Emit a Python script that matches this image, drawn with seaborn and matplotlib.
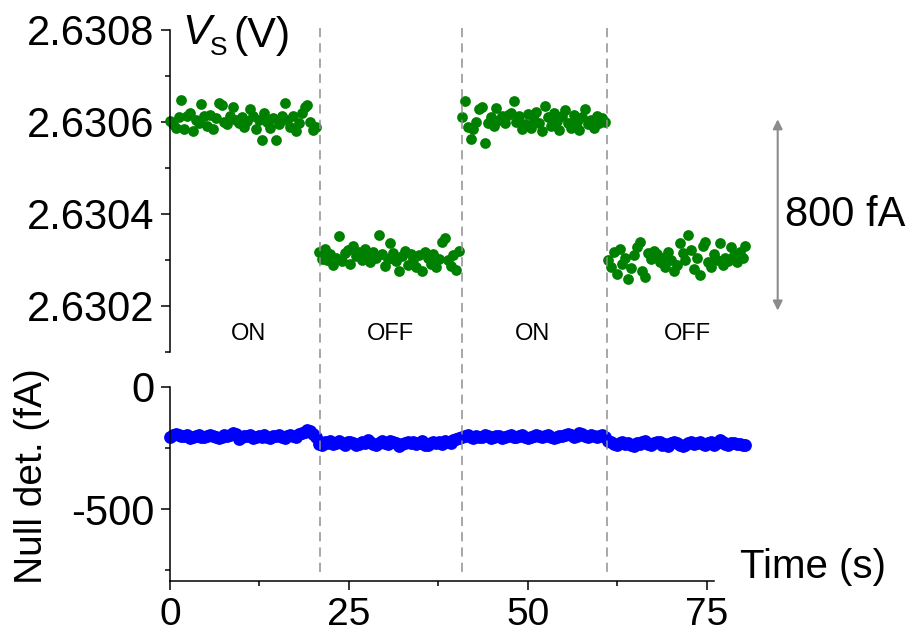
import numpy as np
import pandas as pd
import matplotlib
matplotlib.use("Agg")
import matplotlib.pyplot as plt
from matplotlib.ticker import MultipleLocator, FormatStrFormatter
from matplotlib.transforms import blended_transform_factory
from matplotlib.lines import Line2D
import seaborn as sns

# Sampling interval of the recorder (s)
SAMPLE_DT = 0.4

# Source voltage V_S (V), one list per source state
vs_on_1 = [
    2.630602, 2.630595, 2.630588, 2.630610, 2.630648, 2.630585, 2.630612, 2.630620, 2.630580, 2.630605,
    2.630598, 2.630640, 2.630612, 2.630592, 2.630615, 2.630585, 2.630608, 2.630642, 2.630638, 2.630600,
    2.630595, 2.630612, 2.630632, 2.630605, 2.630598, 2.630610, 2.630590, 2.630602, 2.630628, 2.630612,
    2.630585, 2.630605, 2.630560, 2.630620, 2.630600, 2.630588, 2.630608, 2.630560, 2.630595, 2.630612,
    2.630642, 2.630605, 2.630590, 2.630612, 2.630580, 2.630598, 2.630620, 2.630632, 2.630638, 2.630600,
    2.630582, 2.630590,
]
vs_off_1 = [
    2.630318, 2.630302, 2.630325, 2.630300, 2.630312, 2.630290, 2.630305, 2.630352, 2.630298, 2.630315,
    2.630322, 2.630292, 2.630330, 2.630308, 2.630318, 2.630300, 2.630325, 2.630310, 2.630295, 2.630318,
    2.630305, 2.630355, 2.630312, 2.630288, 2.630302, 2.630338, 2.630315, 2.630298, 2.630275, 2.630308,
    2.630320, 2.630290, 2.630312, 2.630300, 2.630285, 2.630310, 2.630275, 2.630318, 2.630305, 2.630292,
    2.630312, 2.630285, 2.630302, 2.630340, 2.630348, 2.630300, 2.630288, 2.630310, 2.630278, 2.630320,
]
vs_on_2 = [
    2.630610, 2.630645, 2.630590, 2.630562, 2.630585, 2.630600, 2.630628, 2.630632, 2.630555, 2.630598,
    2.630610, 2.630592, 2.630630, 2.630605, 2.630612, 2.630598, 2.630615, 2.630620, 2.630645, 2.630600,
    2.630612, 2.630585, 2.630595, 2.630618, 2.630588, 2.630605, 2.630622, 2.630598, 2.630580, 2.630635,
    2.630610, 2.630592, 2.630620, 2.630602, 2.630582, 2.630612, 2.630625, 2.630598, 2.630588, 2.630615,
    2.630600, 2.630582, 2.630610, 2.630628, 2.630595, 2.630605, 2.630588, 2.630612, 2.630598, 2.630608,
    2.630600,
]
vs_off_2 = [
    2.630300, 2.630285, 2.630318, 2.630270, 2.630325, 2.630292, 2.630305, 2.630258, 2.630282, 2.630310,
    2.630328, 2.630340, 2.630275, 2.630262, 2.630315, 2.630302, 2.630320, 2.630312, 2.630295, 2.630305,
    2.630285, 2.630318, 2.630300, 2.630275, 2.630290, 2.630338, 2.630315, 2.630300, 2.630355, 2.630322,
    2.630280, 2.630305, 2.630268, 2.630330, 2.630340, 2.630295, 2.630285, 2.630312, 2.630300, 2.630338,
    2.630290, 2.630305, 2.630298, 2.630328, 2.630310, 2.630295, 2.630318, 2.630305, 2.630330,
]

# Null detector current (fA), recorded alongside V_S
null_on_1 = [
    -205, -198, -192, -196, -202, -200, -195, -210, -204, -199,
    -197, -203, -206, -201, -196, -200, -205, -208, -203, -198,
    -200, -196, -188, -194, -212, -206, -199, -202, -197, -210,
    -205, -200, -203, -198, -206, -209, -202, -200, -197, -204,
    -207, -201, -196, -199, -203, -194, -190, -185, -176, -182,
    -192, -205,
]
null_off_1 = [
    -232, -238, -226, -230, -222, -235, -228, -220, -231, -236,
    -226, -224, -230, -238, -233, -225, -229, -218, -227, -232,
    -236, -228, -223, -230, -234, -221, -226, -231, -240, -235,
    -228, -224, -230, -226, -233, -229, -222, -236, -238, -231,
    -227, -230, -225, -233, -221, -226, -229, -218, -214, -210,
]
null_on_2 = [
    -206, -202, -198, -204, -209, -200, -205, -203, -196, -201,
    -207, -204, -199, -202, -210, -205, -200, -197, -203, -206,
    -201, -198, -204, -208, -203, -199, -195, -202, -206, -200,
    -197, -204, -209, -203, -199, -201, -196, -192, -198, -205,
    -200, -188, -194, -199, -203, -197, -200, -205, -202, -198,
    -204,
]
null_off_2 = [
    -220, -226, -232, -238, -229, -224, -233, -230, -236, -241,
    -228, -232, -226, -222, -235, -238, -231, -227, -224, -236,
    -233, -240, -229, -225, -231, -236, -242, -238, -230, -226,
    -233, -228, -224, -235, -239, -231, -227, -236, -229, -218,
    -224, -233, -237, -230, -228, -235, -232, -238, -236,
]

# Moments the source was switched (s) and the state labels between them
switch_times = [20.9, 40.8, 61.0]
state_labels = ["ON", "OFF", "ON", "OFF"]
state_label_x = [10.9, 30.8, 50.6, 72.3]

# Scale bar: span of V_S that corresponds to 800 fA
scale_bar_x = 84.9
scale_bar_y = [2.630190, 2.630606]
scale_bar_text = "800 fA"

vs = np.concatenate([vs_on_1, vs_off_1, vs_on_2, vs_off_2])
null = np.concatenate([null_on_1, null_off_1, null_on_2, null_off_2])
time = np.arange(len(vs)) * SAMPLE_DT
df = pd.DataFrame({"time": time, "vs": vs, "null": null})

sns.set_style("ticks")
plt.rcParams["font.family"] = ["Liberation Sans", "DejaVu Sans"]
plt.rcParams["axes.unicode_minus"] = False
for key in ("text.color", "axes.labelcolor", "xtick.color", "ytick.color", "axes.edgecolor"):
    plt.rcParams[key] = "black"

W, H = 907, 632
fig = plt.figure(figsize=(W / 100, H / 100), dpi=100)
left, right = 170, 714
ax1 = fig.add_axes([left / W, 1 - 352 / H, (right - left) / W, (352 - 30) / H])
ax2 = fig.add_axes([left / W, 1 - 581 / H, (right - left) / W, (581 - 387) / H])

sns.scatterplot(data=df, x="time", y="vs", ax=ax1, color="#008000", s=60,
                linewidth=0, clip_on=False, legend=False)
sns.scatterplot(data=df, x="time", y="null", ax=ax2, color="#0000ff", s=85,
                linewidth=0, clip_on=False, legend=False)

for ax in (ax1, ax2):
    ax.set_xlim(0, 76)
    ax.set_xlabel("")
    ax.set_ylabel("")
    ax.patch.set_visible(False)
    for side in ("top", "right"):
        ax.spines[side].set_visible(False)
    for side in ("left", "bottom"):
        ax.spines[side].set_linewidth(1.1)
        ax.spines[side].set_color("black")
    ax.tick_params(which="major", direction="out", length=6.5, width=1.1,
                   pad=5, color="black", labelcolor="black")
    ax.tick_params(which="minor", direction="out", length=3.5, width=1.1, color="black")
    ax.tick_params(axis="y", which="major", labelsize=30)
    ax.tick_params(axis="x", which="major", labelsize=28)

# Upper panel: V_S
ax1.set_ylim(2.6301, 2.6308)
ax1.spines["bottom"].set_visible(False)
ax1.tick_params(axis="x", which="both", bottom=False, labelbottom=False)
ax1.yaxis.set_major_locator(MultipleLocator(0.0002))
ax1.yaxis.set_minor_locator(MultipleLocator(0.0001))
ax1.yaxis.set_major_formatter(FormatStrFormatter("%.4f"))
# Axis title V_S (V): italic V with a lowered, smaller subscript
ax1.text(0.022, 0.991, "V", transform=ax1.transAxes, style="italic",
         ha="left", va="center", fontsize=31)
ax1.text(0.074, 0.944, "S", transform=ax1.transAxes,
         ha="left", va="center", fontsize=19)
ax1.text(0.116, 0.981, "(V)", transform=ax1.transAxes,
         ha="left", va="center", fontsize=31)
for lab, x in zip(state_labels, state_label_x):
    ax1.text(x, 0.056, lab, transform=ax1.get_xaxis_transform(),
             ha="center", va="center", fontsize=17)
ax1.annotate("", xy=(scale_bar_x, scale_bar_y[0]), xytext=(scale_bar_x, scale_bar_y[1]),
             arrowprops=dict(arrowstyle="<|-|>", color="#8c8c8c", lw=1.5,
                             mutation_scale=14, shrinkA=0, shrinkB=0),
             annotation_clip=False)
ax1.text(scale_bar_x + 1.0, np.mean(scale_bar_y), scale_bar_text,
         ha="left", va="center", fontsize=30)

# Lower panel: null detector
ax2.set_ylim(-795, 0)
ax2.yaxis.set_major_locator(MultipleLocator(500))
ax2.yaxis.set_minor_locator(MultipleLocator(250))
ax2.xaxis.set_major_locator(MultipleLocator(25))
ax2.xaxis.set_minor_locator(MultipleLocator(12.5))
ax2.text(-0.254, 0.539, "Null det. (fA)", transform=ax2.transAxes, rotation=90,
         ha="center", va="center", fontsize=28)
ax2.text(1.048, 0.072, "Time (s)", transform=ax2.transAxes,
         ha="left", va="center", fontsize=29)

# Switching markers spanning both panels
trans = blended_transform_factory(ax2.transData, fig.transFigure)
for ts in switch_times:
    fig.add_artist(Line2D([ts, ts], [1 - 28 / H, 1 - 576 / H], transform=trans,
                          color="#8f8f8f", lw=1.1, dashes=(6, 4)))

fig.savefig("out.png", dpi=100)
